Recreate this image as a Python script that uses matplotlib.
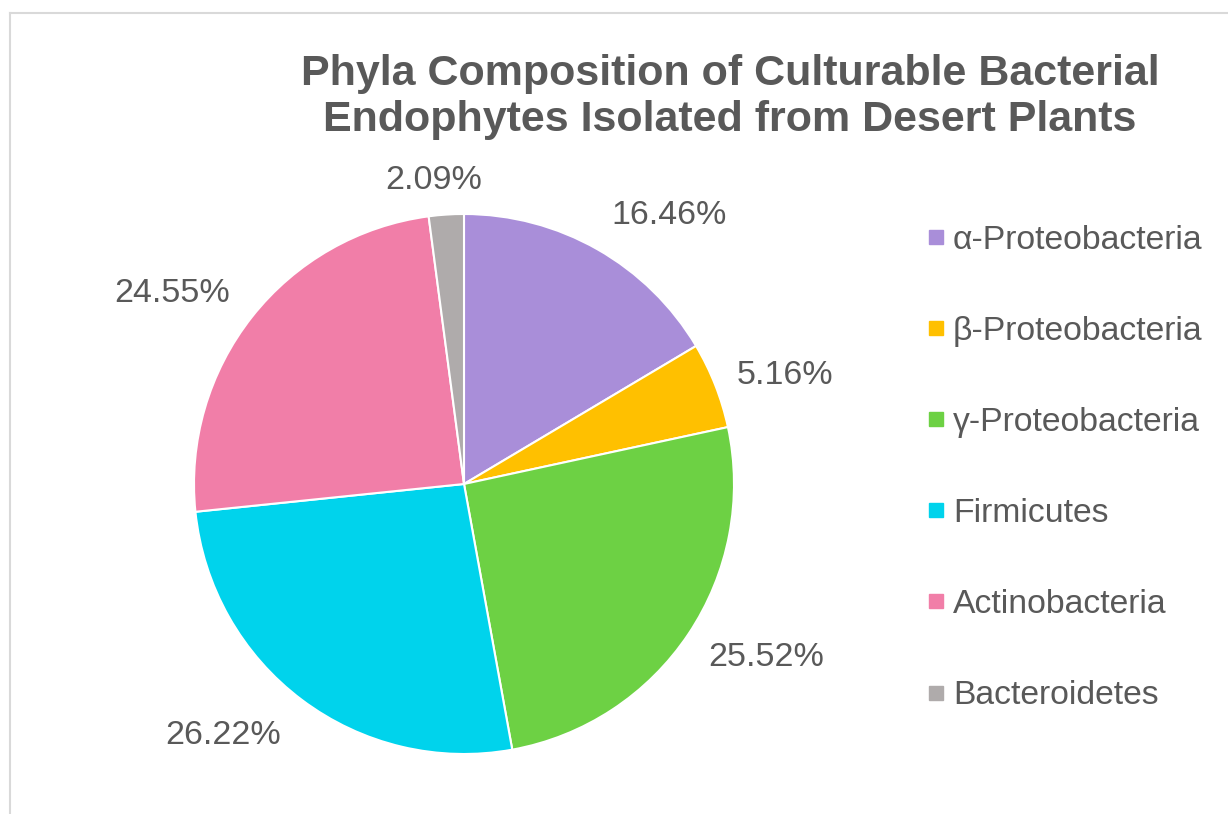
import matplotlib
matplotlib.use('Agg')
import matplotlib.pyplot as plt
from matplotlib.lines import Line2D
import numpy as np

plt.rcParams['font.family'] = ['Liberation Sans', 'DejaVu Sans']

# 데이터
phyla = ['α-Proteobacteria', 'β-Proteobacteria', 'γ-Proteobacteria',
         'Firmicutes', 'Actinobacteria', 'Bacteroidetes']
percent = [16.46, 5.16, 25.52, 26.22, 24.55, 2.09]
colors = ['#A98ED9', '#FFC000', '#6DD144', '#00D3EC', '#F17EA8', '#AFABAB']
title = 'Phyla Composition of Culturable Bacterial\nEndophytes Isolated from Desert Plants'

# 라벨 위치 보정 (각도 이동, 반지름 배수)
label_shift = [-7.7, -2.7, 3.9, -6.8, 5.1, 2.0]
label_dist = [1.25, 1.255, 1.29, 1.29, 1.29, 1.13]

text_color = '#595959'

fig = plt.figure(figsize=(12.28, 8.14), dpi=100)

# 외곽선
fig.add_artist(Line2D([10/1228, 10/1228], [0, 1 - 13/814], transform=fig.transFigure,
                      color='#D9D9D9', lw=1.5))
fig.add_artist(Line2D([10/1228, 1], [1 - 13/814, 1 - 13/814], transform=fig.transFigure,
                      color='#D9D9D9', lw=1.5))

ax = fig.add_axes([194/1228, 60/814, 540/1228, 540/814])
wedges, texts, autotexts = ax.pie(percent, colors=colors, startangle=90, counterclock=False,
                                  radius=1, autopct='%.2f%%', pctdistance=1.27,
                                  wedgeprops=dict(edgecolor='white', linewidth=1.5),
                                  textprops=dict(color=text_color, fontsize=24.5))
for w, t, da, r in zip(wedges, autotexts, label_shift, label_dist):
    ang = np.deg2rad((w.theta1 + w.theta2) / 2 + da)
    t.set_position((r * np.cos(ang), r * np.sin(ang)))
    t.set_ha('center')
    t.set_va('center')
ax.set_xlim(-1, 1)
ax.set_ylim(-1, 1)

fig.text(730/1228, 1 - 97/814, title, ha='center', va='center', fontsize=31,
         fontweight='bold', color=text_color, linespacing=1.2)

handles = [Line2D([], [], marker='s', linestyle='none', markersize=9.4, color=c) for c in colors]
fig.legend(handles, phyla, loc='upper left', bbox_to_anchor=(926/1228, 1 - 225/814),
           frameon=False, fontsize=24.3, labelcolor=text_color, labelspacing=1.78,
           handlelength=0.6, handletextpad=0.2, borderaxespad=0, borderpad=0)

plt.savefig('out.png', dpi=100)
